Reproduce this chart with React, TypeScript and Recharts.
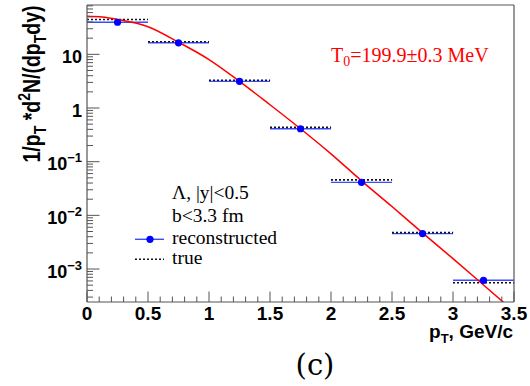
import React from 'react';
import { ComposedChart, XAxis, YAxis, Scatter, Line, ErrorBar } from 'recharts';

// ---------- data ----------
const binCenters = [0.25, 0.75, 1.25, 1.75, 2.25, 2.75, 3.25];
const binHalfWidths = [0.25, 0.25, 0.25, 0.25, 0.25, 0.25, 0.25];
const reconstructedValues = [39.6, 16.4, 3.14, 0.411, 0.0412, 0.00457, 0.000617];
const trueValues = [44.6, 17.1, 3.29, 0.435, 0.0459, 0.00477, 0.000556];

const fitX = [0, 0.125, 0.25, 0.5, 0.75, 1.0, 1.25, 1.5, 1.75, 2.0, 2.25, 2.5, 2.75, 3.0, 3.25, 3.5];
const fitY = [51.3, 49.5, 44.6, 32.6, 16.8, 7.98, 3.14, 1.15, 0.411, 0.14, 0.044, 0.0146, 0.00471, 0.00156, 0.000504, 0.000162];

const xMajorTicks = [0, 0.5, 1, 1.5, 2, 2.5, 3, 3.5];
const xTickLabels = ['0', '0.5', '1', '1.5', '2', '2.5', '3', '3.5'];
const xMinorStep = 0.1;

const yMajorTicks = [0.001, 0.01, 0.1, 1, 10];
const yTickBase = ['10', '10', '10', '1', '10'];
const yTickExp = ['\u22123', '\u22122', '\u22121', '', ''];
const yMinorMultipliers = [2, 3, 4, 5, 6, 7, 8, 9];
const yDecades = [0.0001, 0.001, 0.01, 0.1, 1, 10];

const xDomain = [0, 3.5];
const yDomain = [0.000243, 83];

// ---------- derived tables ----------
const recoData = binCenters.map((x, i) => ({ x, y: reconstructedValues[i], xerr: binHalfWidths[i] }));
const trueData = binCenters.map((x, i) => ({ x, y: trueValues[i], xerr: binHalfWidths[i] }));
const fitData = fitX.map((x, i) => ({ x, y: fitY[i] }));

const xTicks: number[] = [];
for (let i = 0; i <= Math.round((xDomain[1] - xDomain[0]) / xMinorStep); i++) {
  xTicks.push(Math.round((xDomain[0] + i * xMinorStep) * 10) / 10);
}
const yTicks: number[] = [];
yDecades.forEach((d) => {
  yMinorMultipliers.forEach((m) => {
    const v = d * m;
    if (v >= yDomain[0] && v <= yDomain[1]) yTicks.push(v);
  });
  if (d >= yDomain[0] && d <= yDomain[1]) yTicks.push(d);
});
yTicks.sort((a, b) => a - b);

const AXIS = '#555';
const SANS = 'Liberation Sans, Arial, Helvetica, sans-serif';
const SERIF = 'Liberation Serif, Times New Roman, serif';

const XTick = (props: any) => {
  const { x, y, payload } = props;
  const v = payload.value;
  const idx = xMajorTicks.findIndex((t) => Math.abs(t - v) < 1e-6);
  const major = idx >= 0;
  return (
    <g>
      <line x1={x} x2={x} y1={y} y2={y - (major ? 10.5 : 5.5)} stroke={AXIS} strokeWidth={1} />
      {major && (
        <text x={x} y={y + 17.5} textAnchor="middle" fontFamily={SANS} fontWeight="bold" fontSize={19} fill="#000">
          {xTickLabels[idx]}
        </text>
      )}
    </g>
  );
};

const YTick = (props: any) => {
  const { x, y, payload } = props;
  const v = payload.value;
  const idx = yMajorTicks.findIndex((t) => Math.abs(Math.log10(t) - Math.log10(v)) < 1e-6);
  const major = idx >= 0;
  return (
    <g>
      <line x1={x} x2={x + (major ? 12.5 : 6)} y1={y} y2={y} stroke={AXIS} strokeWidth={1} />
      {major && (
        <text x={x - 5} y={y + 8.5} textAnchor="end" fontFamily={SANS} fontWeight="bold" fontSize={18} fill="#000">
          {yTickBase[idx]}
          {yTickExp[idx] && (
            <tspan dy={-8} fontSize={13}>
              {yTickExp[idx]}
            </tspan>
          )}
        </text>
      )}
    </g>
  );
};

const RecoDot = (props: any) => {
  const { cx, cy } = props;
  if (cx == null || cy == null) return <g />;
  return <circle cx={cx} cy={cy} r={3.6} fill="#0000ff" />;
};
const NoDot = () => <g />;

export default function App() {
  return (
    <div style={{ position: 'absolute', left: 0, top: 0, width: 530, height: 386, background: '#fff' }}>
      <ComposedChart
        width={530}
        height={386}
        margin={{ top: 4, right: 15, bottom: 0, left: 86 }}
      >
        <XAxis
          xAxisId="main"
          type="number"
          dataKey="x"
          domain={xDomain}
          allowDataOverflow
          ticks={xTicks}
          interval={0}
          tick={<XTick />}
          tickLine={false}
          tickSize={0}
          tickMargin={0}
          height={84}
          axisLine={{ stroke: AXIS, strokeWidth: 1.2 }}
        />
        <XAxis
          xAxisId="top"
          orientation="top"
          type="number"
          domain={xDomain}
          height={1}
          tick={false}
          tickLine={false}
          axisLine={{ stroke: AXIS, strokeWidth: 1.2 }}
        />
        <YAxis
          yAxisId="main"
          type="number"
          dataKey="y"
          scale="log"
          domain={yDomain}
          allowDataOverflow
          ticks={yTicks}
          interval={0}
          tick={<YTick />}
          tickLine={false}
          tickSize={0}
          tickMargin={0}
          width={1}
          axisLine={{ stroke: AXIS, strokeWidth: 1.2 }}
        />
        <YAxis
          yAxisId="right"
          orientation="right"
          type="number"
          domain={[0, 1]}
          width={1}
          tick={false}
          tickLine={false}
          axisLine={{ stroke: AXIS, strokeWidth: 1.2 }}
        />
        <Scatter
          xAxisId="main"
          yAxisId="main"
          data={recoData}
          dataKey="y"
          shape={<NoDot />}
          isAnimationActive={false}
        >
          <ErrorBar dataKey="xerr" direction="x" width={0} stroke="#3a4bff" strokeWidth={1.4} />
        </Scatter>
        <Scatter
          xAxisId="main"
          yAxisId="main"
          data={trueData}
          dataKey="y"
          shape={<NoDot />}
          isAnimationActive={false}
        >
          <ErrorBar dataKey="xerr" direction="x" width={0} stroke="#111" strokeWidth={1.6} strokeDasharray="2 2" />
        </Scatter>
        <Scatter
          xAxisId="main"
          yAxisId="main"
          data={recoData}
          dataKey="y"
          shape={<RecoDot />}
          isAnimationActive={false}
        />
        <Line
          xAxisId="main"
          yAxisId="main"
          data={fitData}
          dataKey="y"
          type="monotone"
          stroke="#ff0000"
          strokeWidth={1.5}
          dot={false}
          activeDot={false}
          isAnimationActive={false}
        />
      </ComposedChart>
      <svg
        width={530}
        height={386}
        style={{ position: 'absolute', left: 0, top: 0, pointerEvents: 'none' }}
      >
        {/* y-axis title */}
        <text
          transform="translate(40,84) rotate(-90) scale(1,1.2)"
          textAnchor="middle"
          fontFamily={SANS}
          fontWeight="bold"
          fontSize={19.5}
          fill="#000"
        >
          1/p
          <tspan dy={5} fontSize={14}>T</tspan>
          <tspan dy={-5}> *d</tspan>
          <tspan dy={-8} fontSize={14}>2</tspan>
          <tspan dy={8}>N/(dp</tspan>
          <tspan dy={5} fontSize={14}>T</tspan>
          <tspan dy={-5}>dy)</tspan>
        </text>
        {/* x-axis title */}
        <text x={513} y={338} textAnchor="end" fontFamily={SANS} fontWeight="bold" fontSize={19} fill="#000">
          p
          <tspan dy={5} fontSize={13}>T</tspan>
          <tspan dy={-5}>, GeV/c</tspan>
        </text>
        {/* fit label */}
        <text x={331} y={61.5} fontFamily={SERIF} fontSize={20} fill="#ff0000">
          T
          <tspan dy={4} fontSize={14}>0</tspan>
          <tspan dy={-4}>=199.9±0.3 MeV</tspan>
        </text>
        {/* legend */}
        <text x={172} y={199} fontFamily={SERIF} fontSize={19.5} fill="#000">Λ, |y|&lt;0.5</text>
        <text x={172} y={221.5} fontFamily={SERIF} fontSize={19.5} fill="#000">b&lt;3.3 fm</text>
        <line x1={135} x2={164} y1={239.3} y2={239.3} stroke="#3a4bff" strokeWidth={1.4} />
        <circle cx={150} cy={239.3} r={3.6} fill="#0000ff" />
        <text x={172} y={244} fontFamily={SERIF} fontSize={19.5} fill="#000">reconstructed</text>
        <line x1={135} x2={164} y1={259.3} y2={259.3} stroke="#111" strokeWidth={1.4} strokeDasharray="2 2" />
        <text x={172} y={264} fontFamily={SERIF} fontSize={19.5} fill="#000">true</text>
        {/* panel label */}
        <text x={315} y={375} textAnchor="middle" fontFamily="DejaVu Serif, serif" fontSize={29} fill="#000">(c)</text>
      </svg>
    </div>
  );
}
